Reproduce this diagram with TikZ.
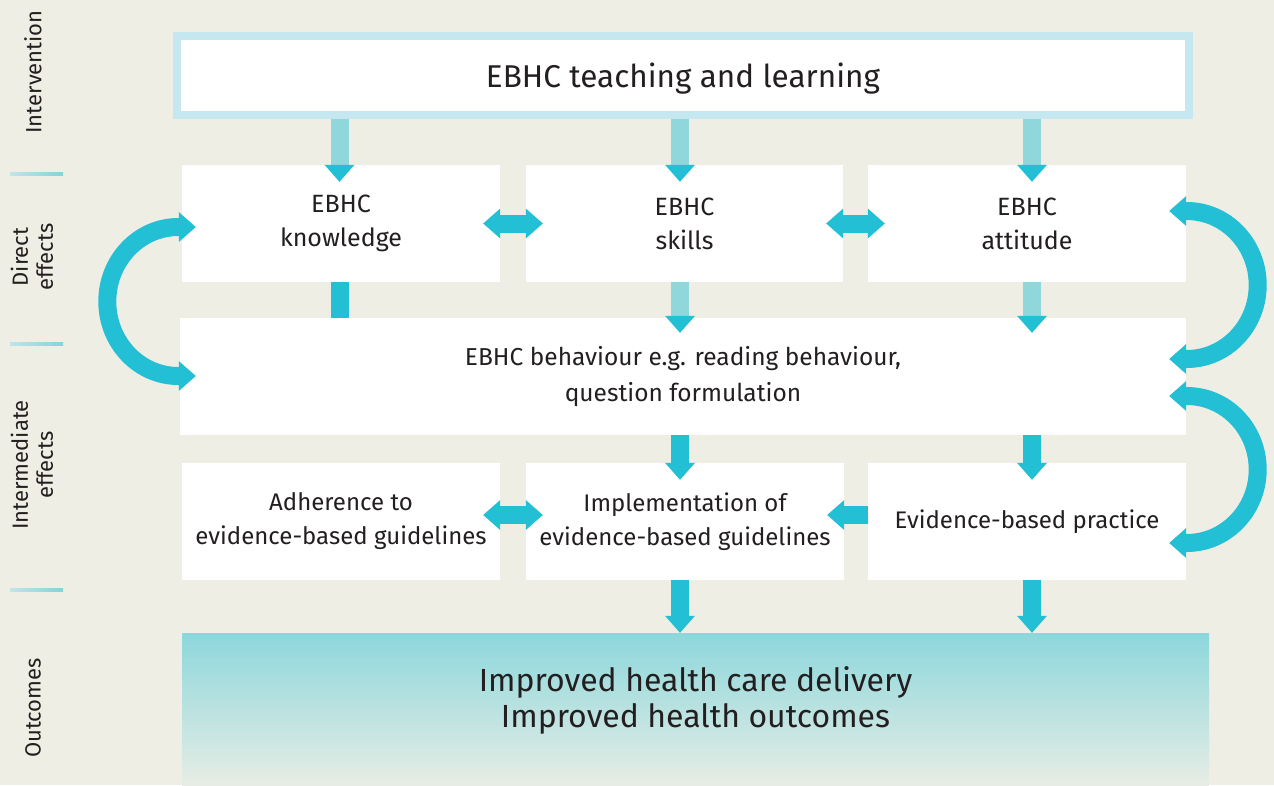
\documentclass[tikz,border=0pt]{standalone}
\usepackage{fontspec}
\setmainfont{Fira Sans}
\usetikzlibrary{arrows.meta}

\definecolor{paper}{HTML}{EFEEE4}
\definecolor{ebhcTeal}{HTML}{22BFD5}
\definecolor{paleTeal}{HTML}{C5E8F0}
\definecolor{shaftTeal}{HTML}{90D7DC}
\definecolor{sepTeal}{HTML}{6FCAD2}
\definecolor{sepPale}{HTML}{BFE5E8}
\definecolor{outTop}{HTML}{8CD7DC}
\definecolor{outBottom}{HTML}{E7EDE5}
\definecolor{ink}{HTML}{231F20}

\begin{document}
\begin{tikzpicture}[x=1pt,y=1pt,
    box/.style={fill=white, inner sep=0pt, text=ink, align=center,
      minimum width=318pt, minimum height=117pt,
      font=\fontsize{25}{34}\selectfont},
    sideLabel/.style={rotate=90, align=center, text=ink, inner sep=0pt,
      font=\fontsize{22}{25}\selectfont},
    tipHead/.tip={Triangle[width=30pt,length=17pt,line width=0pt]},
    flow/.style={draw=ebhcTeal, line width=18pt, line join=round},
    head/.style={-tipHead},
    bihead/.style={tipHead-tipHead},
    lightFlow/.style={draw=shaftTeal, line width=18pt,
      -{Triangle[width=30pt,length=17pt,line width=0pt,color=ebhcTeal,fill=ebhcTeal]}},
  ]
    \fill[paper] (0,0) rectangle (1274,-785);
    \useasboundingbox (0,0) rectangle (1274,-785);

    \coordinate (colA) at (339.5,0);
    \coordinate (colB) at (680,0);
    \coordinate (colC) at (1032,0);
    \coordinate (rowThree) at (0,-515);

    \foreach \y in {-174,-344,-590}
      \shade[left color=sepPale, middle color=sepTeal, right color=sepTeal!70!sepPale]
        (10,\y-1.5) rectangle (63,\y+1.5);

    \node[sideLabel] (interventionLabel) at (33,-72) {Intervention};
    \node[sideLabel] (directLabel) at (32,-257) {Direct\\effects};
    \node[sideLabel] (intermediateLabel) at (32,-465) {Intermediate\\effects};
    \node[sideLabel] (outcomesLabel) at (33,-708) {Outcomes};

    \node[draw=paleTeal, line width=8pt, fill=white, text=ink,
      minimum width=1012pt, minimum height=79pt, text depth=0pt,
      font=\fontsize{31.5}{36}\selectfont] (teachingBox) at (683,-75.5) {EBHC teaching and learning};

    \node[box] (knowledgeBox) at (341,-223.5) {EBHC\\knowledge};
    \node[box, minimum width=317pt] (skillsBox) at (684.5,-223.5) {EBHC\\skills};
    \node[box] (attitudeBox) at (1027,-223.5) {EBHC\\attitude};
    \node[box, minimum width=1006pt, font=\fontsize{24.5}{36}\selectfont] (behaviourBox) at (683,-376.5) {EBHC behaviour e.g. reading behaviour,\\question formulation};
    \node[box, font=\fontsize{24}{34}\selectfont] (adherenceBox) at (341,-521.5) {Adherence to\\evidence-based guidelines};
    \node[box, font=\fontsize{24}{34}\selectfont] (implementationBox) at (685,-521.5) {Implementation of\\evidence-based guidelines};
    \node[box, font=\fontsize{24}{34}\selectfont] (practiceBox) at (1027,-521.5) {Evidence-based practice};
    \node[box, minimum width=1027pt, minimum height=152pt,
      top color=outTop, bottom color=outBottom] (outcomesBox) at (695.5,-709) {};
    \node[text=ink, align=center, font=\fontsize{32}{36}\selectfont]
      (outcomesText) at (695.5,-700) {Improved health care delivery\\Improved health outcomes};

    % down from the intervention
    \draw[lightFlow, shorten >=-17pt] (teachingBox.south -| colA) -- (knowledgeBox.north -| colA);
    \draw[lightFlow, shorten >=-17pt] (teachingBox.south -| colB) -- (skillsBox.north -| colB);
    \draw[lightFlow, shorten >=-17pt] (teachingBox.south -| colC) -- (attitudeBox.north -| colC);

    % direct effects
    \draw[flow, bihead, shorten <=-17pt, shorten >=-17pt] (knowledgeBox.east) -- (skillsBox.west);
    \draw[flow, bihead, shorten <=-17pt, shorten >=-17pt] (skillsBox.east) -- (attitudeBox.west);
    \draw[flow] (knowledgeBox.south -| colA) -- (behaviourBox.north -| colA);
    \draw[lightFlow, shorten >=-15pt] (skillsBox.south -| colB) -- (behaviourBox.north -| colB);
    \draw[lightFlow, shorten >=-15pt] (attitudeBox.south -| colC) -- (behaviourBox.north -| colC);

    % intermediate effects
    \draw[flow, head, shorten >=-17pt] (behaviourBox.south -| colB) -- (implementationBox.north -| colB);
    \draw[flow, head, shorten >=-17pt] (behaviourBox.south -| colC) -- (practiceBox.north -| colC);
    \draw[flow, bihead, shorten <=-17pt, shorten >=-17pt] (adherenceBox.east |- rowThree) -- (implementationBox.west |- rowThree);
    \draw[flow, head, shorten >=-17pt] (practiceBox.west |- rowThree) -- (implementationBox.east |- rowThree);

    % outcomes
    \draw[flow, head] (implementationBox.south -| colB) -- (outcomesBox.north -| colB);
    \draw[flow, head] (practiceBox.south -| colC) -- (outcomesBox.north -| colC);

    % feedback loops
    \draw[flow, bihead] ([shift={(14pt,-3.5pt)}]knowledgeBox.west) -- ++(-17.5,0)
      arc[start angle=90, end angle=270, x radius=71pt, y radius=74.5pt] -- ++(17.5,0);
    \draw[flow, bihead] ([shift={(-17pt,12.5pt)}]attitudeBox.east) -- ++(17.5,0)
      arc[start angle=90, end angle=-90, x radius=71pt, y radius=74pt] -- ++(-17.5,0);
    \draw[flow, bihead] ([shift={(-17pt,-19.5pt)}]behaviourBox.east) -- ++(17.5,0)
      arc[start angle=90, end angle=-90, x radius=71pt, y radius=73.5pt] -- ++(-17.5,0);
\end{tikzpicture}
\end{document}
